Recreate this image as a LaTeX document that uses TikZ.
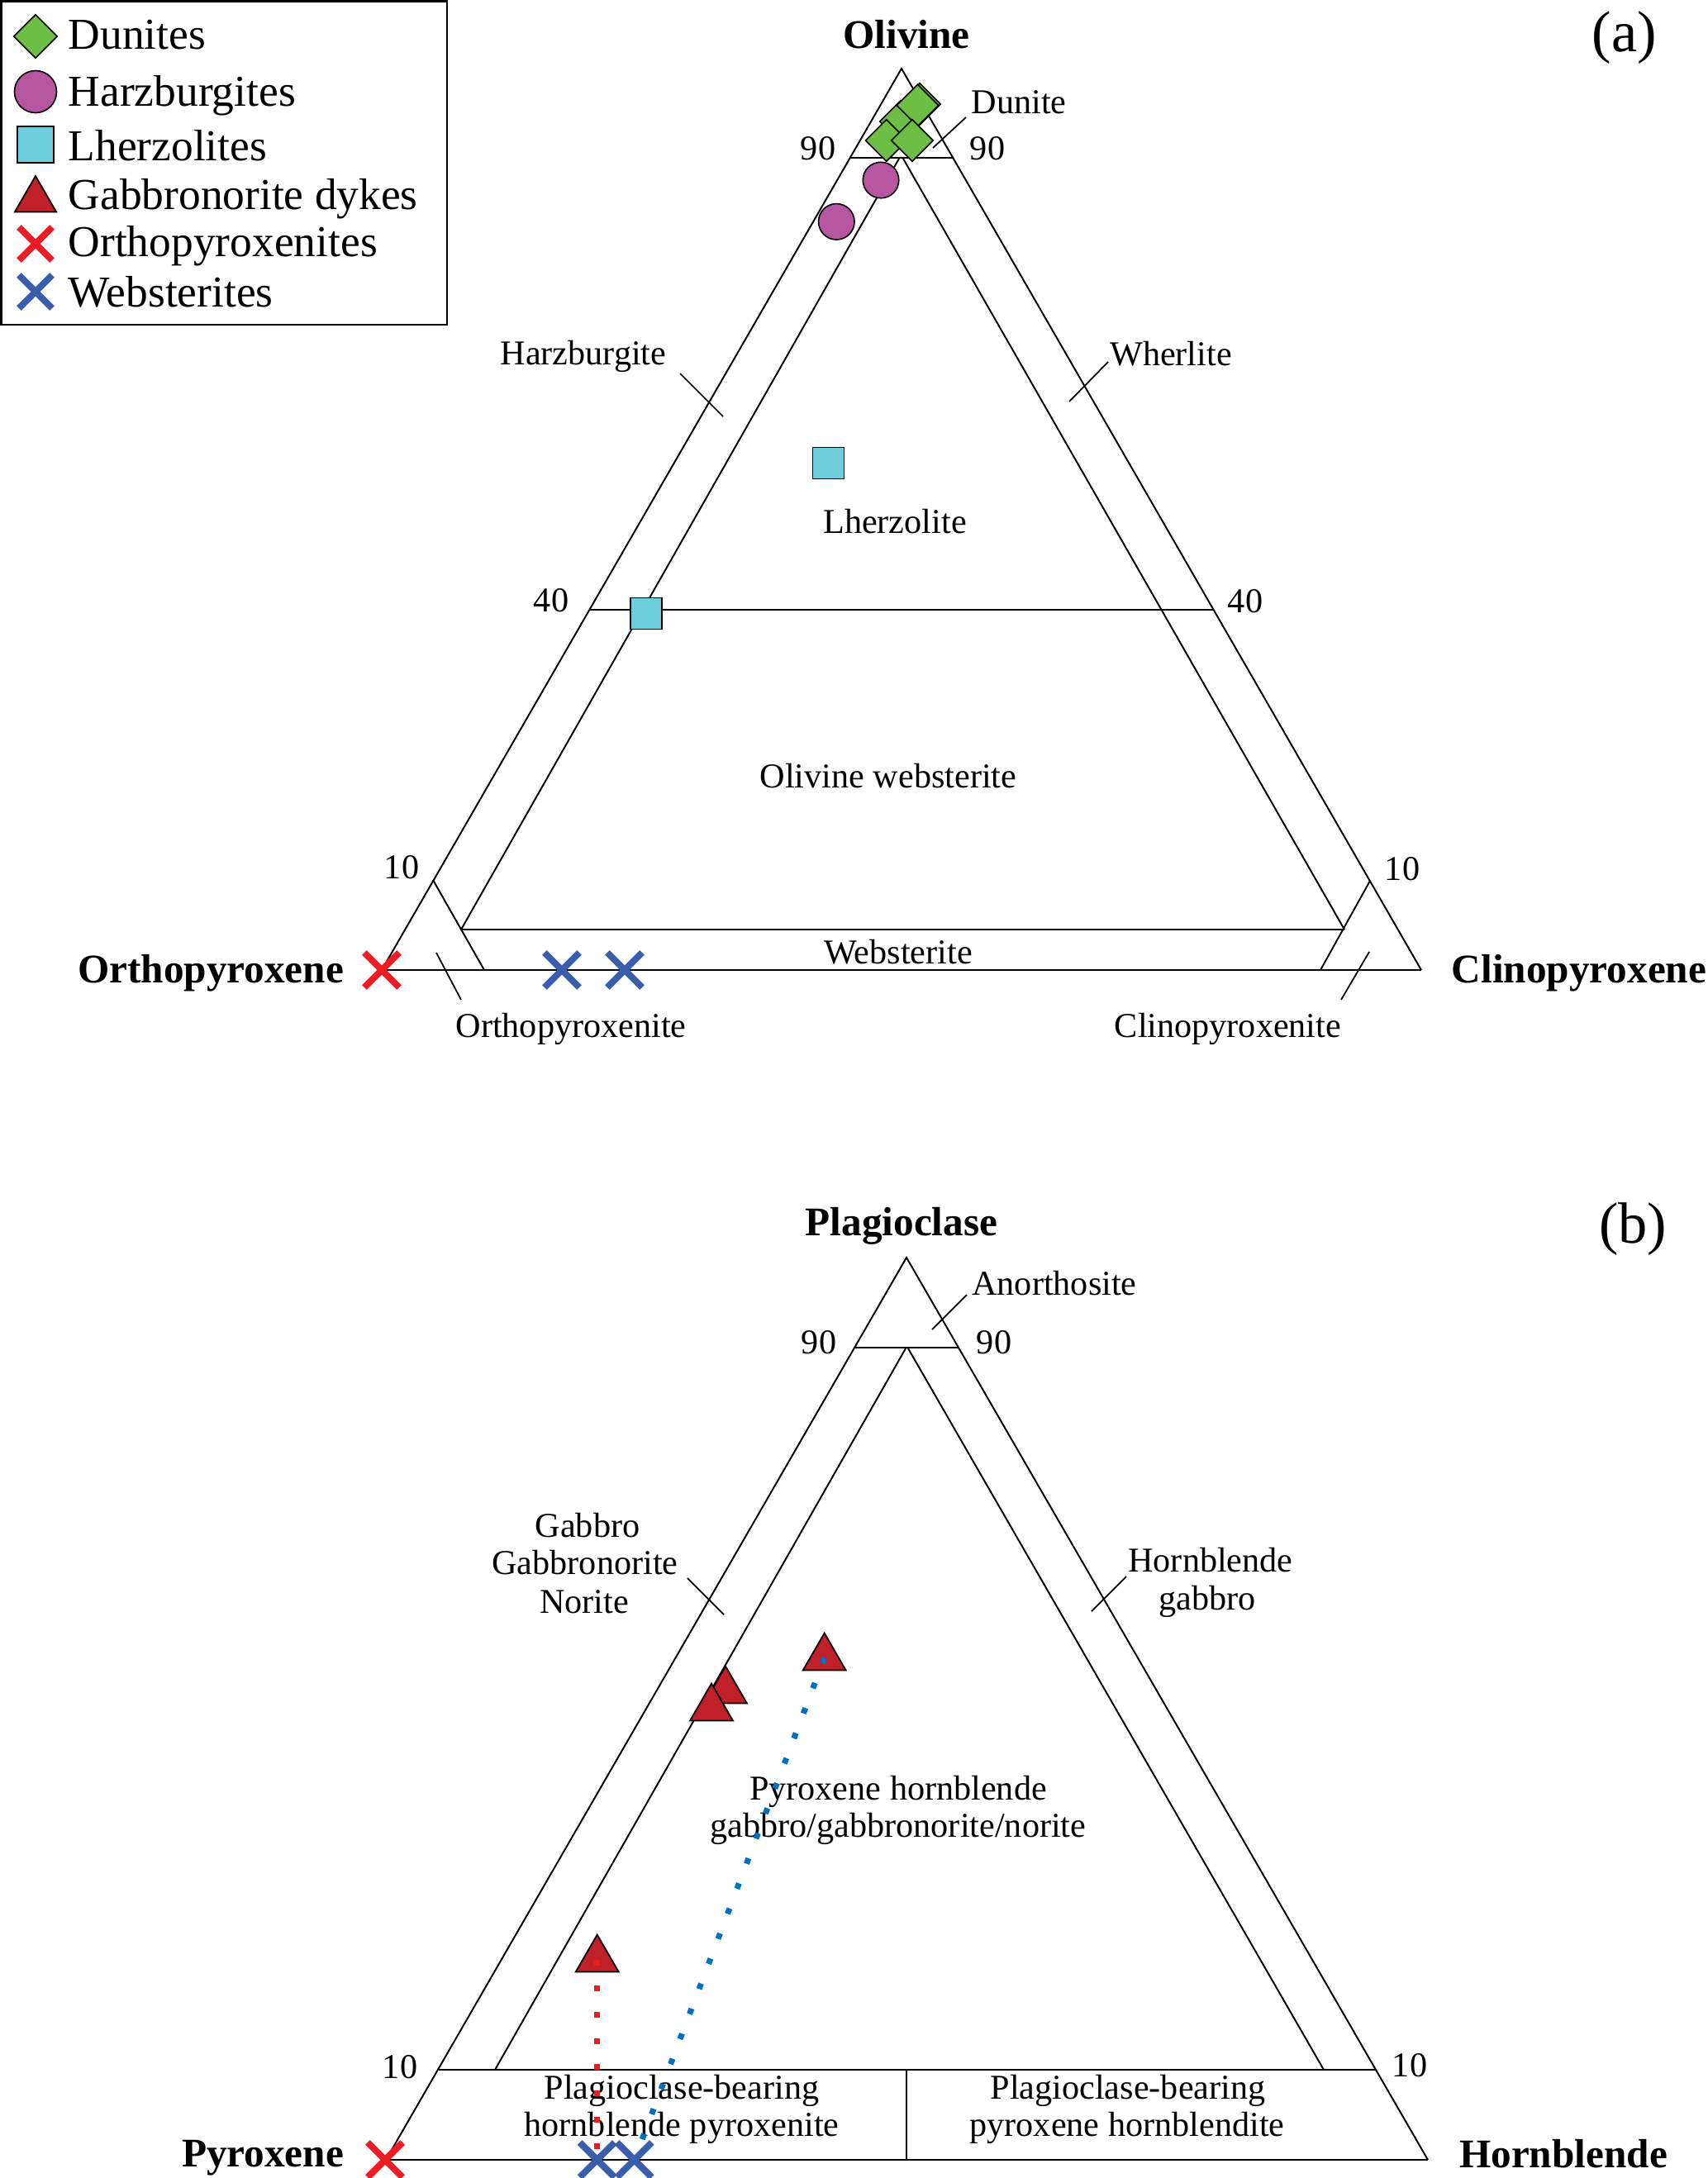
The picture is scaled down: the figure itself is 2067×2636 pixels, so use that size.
\documentclass[tikz,border=0pt]{standalone}
\usepackage{fontspec}
\setmainfont{Liberation Serif}
\usetikzlibrary{shapes.geometric,shapes.misc}
\definecolor{dungreen}{RGB}{109,190,69}
\definecolor{harzmag}{RGB}{183,86,160}
\definecolor{lhzcyan}{RGB}{111,206,220}
\definecolor{gabred}{RGB}{192,32,39}
\definecolor{opxred}{RGB}{237,28,36}
\definecolor{webblue}{RGB}{58,94,172}
\definecolor{dotblue}{RGB}{0,112,192}
\tikzset{
  edge/.style={line width=0.55pt, black},
  hline/.style={line width=0.8pt, black},
  leader/.style={line width=0.5pt, black},
  lab/.style={font=\fontsize{12}{14}\selectfont, inner sep=0pt, anchor=base},
  axis/.style={font=\fontsize{14}{16}\selectfont\bfseries, inner sep=0pt, anchor=base},
  panel/.style={font=\fontsize{20}{24}\selectfont, inner sep=0pt, anchor=base},
  legtext/.style={font=\fontsize{15.2}{18}\selectfont, inner sep=0pt, anchor=base west},
  dun/.style={diamond, draw=black, line width=0.45pt, fill=dungreen, inner sep=0pt, minimum width=5.1mm, minimum height=5.1mm},
  harz/.style={circle, draw=black, line width=0.45pt, fill=harzmag, inner sep=0pt, minimum size=4.35mm},
  lhz/.style={rectangle, draw=black, line width=0.45pt, fill=lhzcyan, inner sep=0pt, minimum size=3.8mm},
  gab/.style={regular polygon, regular polygon sides=3, draw=black, line width=0.5pt, fill=gabred, inner sep=0pt, minimum size=6mm},
  opx/.style={cross out, draw=opxred, line width=2.3pt, inner sep=0pt, minimum size=3.4mm},
  web/.style={cross out, draw=webblue, line width=2.3pt, inner sep=0pt, minimum size=3.4mm},
  reddots/.style={draw=opxred, line width=0.7mm, dash pattern=on 0.7mm off 2.47mm},
  bluedots/.style={draw=dotblue, line width=0.7mm, dash pattern=on 0.7mm off 2.54mm},
}
\begin{document}
\begin{tikzpicture}[x=0.01cm, y=-0.01cm]
\useasboundingbox (0,0) rectangle (2067,2636);

% ---------------- Legend ----------------
\draw[line width=0.6pt] (1.5,1.5) rectangle (541,393);
\node[dun, minimum width=5.3mm, minimum height=5.3mm] (lgd) at (43,44) {};
\node[harz, minimum size=5.1mm] (lgh) at (43,111) {};
\node[lhz, minimum size=4.4mm] (lgl) at (43,175) {};
\node[gab, minimum size=5.8mm] (lgg) at (43,242) {};
\node[opx, minimum size=3.2mm] (lgo) at (43,295) {};
\node[web, minimum size=3.2mm] (lgw) at (43,353) {};
\node[legtext] (lgdt) at (82,60) {Dunites};
\node[legtext] (lght) at (82,128) {Harzburgites};
\node[legtext] (lglt) at (82,194) {Lherzolites};
\node[legtext] (lggt) at (82,253) {Gabbronorite dykes};
\node[legtext] (lgot) at (82,310) {Orthopyroxenites};
\node[legtext] (lgwt) at (82,371) {Websterites};

% ---------------- Panel (a) ----------------
\coordinate (aA) at (1091,83);
\coordinate (aL) at (462,1174);
\coordinate (aR) at (1720,1174);
\draw[edge] (aL) -- (aA) -- (aR);
\draw[hline] (aL) -- (aR);
\draw[hline] (1028,191) -- (1154,191);
\draw[hline] (713,738) -- (1469,738);
\draw[hline] (558,1125) -- (1627,1125);
\draw[edge] (1088,192) -- (558,1125);
\draw[edge] (1093,192) -- (1627,1125);
\draw[edge] (524,1065) -- (586,1174);
\draw[edge] (1658,1066) -- (1598,1174);
% leaders
\draw[leader] (1169,142) -- (1129,179);
\draw[leader] (823,452) -- (875,504);
\draw[leader] (1341,438) -- (1294,486);
\draw[leader] (528,1153) -- (558,1210);
\draw[leader] (1657,1152) -- (1623,1210);

\node[axis] (olv) at (1097,58) {Olivine};
\node[panel] (pa) at (1966,62) {(a)};
\node[lab, anchor=base west] (dunl) at (1175,137) {Dunite};
\node[lab] (a90l) at (990,193) {90};
\node[lab] (a90r) at (1195,193) {90};
\node[lab] (harzl) at (706,441) {Harzburgite};
\node[lab] (wherl) at (1417,442) {Wherlite};
\node[lab] (lhzl) at (1083,645) {Lherzolite};
\node[lab] (a40l) at (667,740) {40};
\node[lab] (a40r) at (1507,741) {40};
\node[lab] (olwl) at (1075,953) {Olivine websterite};
\node[lab] (a10l) at (486,1063) {10};
\node[lab] (a10r) at (1697,1065) {10};
\node[lab] (webl) at (1087,1166) {Websterite};
\node[axis] (opxax) at (255,1189) {Orthopyroxene};
\node[axis] (cpxax) at (1911,1189) {Clinopyroxene};
\node[lab] (opxl) at (691,1255) {Orthopyroxenite};
\node[lab] (cpxl) at (1486,1255) {Clinopyroxenite};

% data (a)
\node[dun] (d2) at (1090,147) {};
\node[dun] (d0) at (1113,126) {};
\node[dun] (d1) at (1110.5,127.5) {};
\node[dun] (d3) at (1072.7,170) {};
\node[dun] (d4) at (1104,170) {};
\node[harz] (h1) at (1066,218) {};
\node[harz] (h2) at (1012.3,268.3) {};
\node[lhz] (l1) at (1002.5,560.5) {};
\node[lhz] (l2) at (782,742.5) {};
\node[opx] (ao1) at (462,1174) {};
\node[web] (aw1) at (680,1174) {};
\node[web] (aw2) at (756,1174) {};

% ---------------- Panel (b) ----------------
\coordinate (bA) at (1097,1522);
\coordinate (bL) at (467,2614);
\coordinate (bR) at (1728,2614);
\draw[edge] (bL) -- (bA) -- (bR);
\draw[hline] (bL) -- (bR);
\draw[hline] (1035,1631) -- (1160,1631);
\draw[hline] (531,2505) -- (1666,2505);
\draw[hline] (1097,2505) -- (1097,2614);
\draw[edge] (1096,1632) -- (599,2505);
\draw[edge] (1099,1632) -- (1602,2505);
% leaders
\draw[leader] (1170,1567) -- (1128,1609);
\draw[leader] (832,1910) -- (876,1954);
\draw[leader] (1363,1908) -- (1321,1950);

\node[axis] (plax) at (1091,1495) {Plagioclase};
\node[panel] (pb) at (1976,1504) {(b)};
\node[lab] (anol) at (1276,1567) {Anorthosite};
\node[lab] (b90l) at (991,1638) {90};
\node[lab] (b90r) at (1203,1638) {90};
\node[lab] (gab1) at (711,1860) {Gabbro};
\node[lab] (gab2) at (708,1905) {Gabbronorite};
\node[lab] (gab3) at (707,1952) {Norite};
\node[lab] (hbg1) at (1465,1902) {Hornblende};
\node[lab] (hbg2) at (1461,1948) {gabbro};
\node[lab] (pxh1) at (1087,2178) {Pyroxene hornblende};
\node[lab] (pxh2) at (1087,2223) {gabbro/gabbronorite/norite};
\node[lab] (b10l) at (484,2515) {10};
\node[lab] (b10r) at (1706,2513) {10};
\node[lab] (pbh1) at (825,2540) {Plagioclase-bearing};
\node[lab] (pbh2) at (825,2585) {hornblende pyroxenite};
\node[lab] (pbp1) at (1365,2540) {Plagioclase-bearing};
\node[lab] (pbp2) at (1364,2585) {pyroxene hornblendite};
\node[axis] (pxax) at (318,2622) {Pyroxene};
\node[axis] (hbax) at (1892,2623) {Hornblende};

% data (b)
\node[gab] (t1) at (878,2046.5) {};
\node[gab] (t2) at (861,2067.5) {};
\node[gab] (t3) at (997.7,2006.5) {};
\node[gab] (t4) at (722.7,2371.5) {};
\coordinate (bw1c) at (722.7,2614);
\coordinate (bw2c) at (767.7,2614);
\draw[reddots] (t4.center) -- (bw1c);
\draw[bluedots] (t3.center) -- (bw2c);
\node[opx] (bo1) at (466,2614) {};
\node[web] (bw1) at (bw1c) {};
\node[web] (bw2) at (bw2c) {};
\end{tikzpicture}
\end{document}
